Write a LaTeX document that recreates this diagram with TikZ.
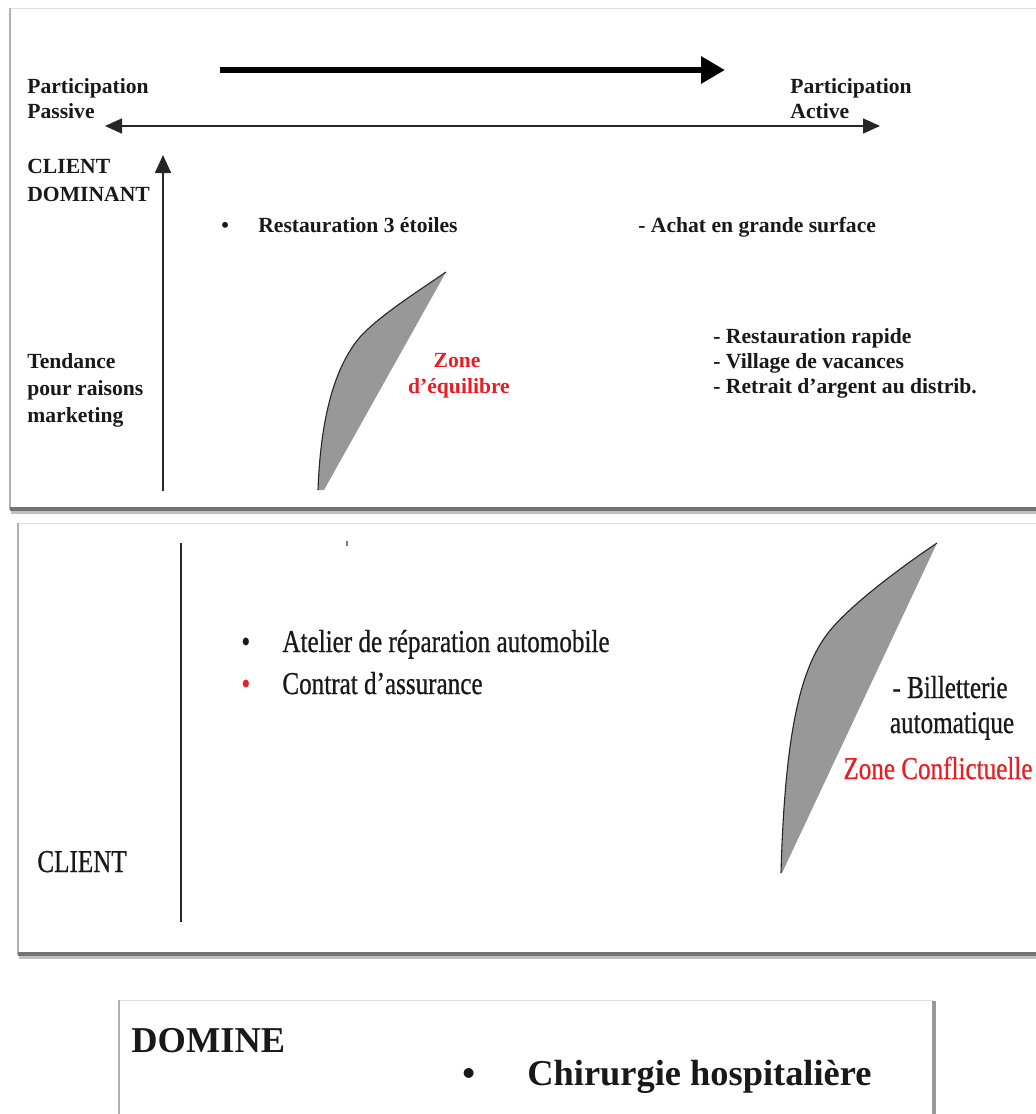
\documentclass[tikz,border=0pt]{standalone}
\usepackage{fontspec}
\setmainfont{Liberation Serif}
\newfontfamily\condfont[FakeStretch=0.79,FakeBold=0.6]{Liberation Serif}
\usetikzlibrary{arrows.meta}
\definecolor{txt}{RGB}{25,25,25}
\definecolor{zred}{RGB}{232,30,36}
\definecolor{zonefill}{RGB}{152,152,152}
\begin{document}
\begin{tikzpicture}[x=0.5pt,y=-0.5pt,
  t1/.style={font=\fontsize{10.8}{13}\selectfont\bfseries, anchor=base west, inner sep=0pt, text=txt},
  t1r/.style={t1, anchor=base, text=zred},
  t2/.style={font=\fontsize{15.9}{19}\condfont, anchor=base west, inner sep=0pt, text=txt},
  t2c/.style={t2, anchor=base},
  t3/.style={font=\fontsize{18.2}{22}\selectfont\bfseries, anchor=base west, inner sep=0pt, text=txt},
  panelbg/.style={fill=white, draw=black!12, line width=0.5pt},
  shadowdark/.style={line width=2pt, draw=black!55},
  shadowlight/.style={line width=1.5pt, draw=black!25},
  zone/.style={fill=zonefill, draw=none},
  zoneedge/.style={draw=black!85, line width=0.55pt},
  axis/.style={line width=0.8pt, draw=black!85},
]
\useasboundingbox (0,0) rectangle (1036,1114);
\clip (0,0) rectangle (1036,1114);
\fill[white] (0,0) rectangle (1036,1114);

% ---------------- Panel 1 ----------------
\draw[panelbg] (9,8) rectangle (1045,509);
\draw[line width=1pt, draw=black!30] (9.5,8) -- (9.5,509);
\draw[shadowdark] (10,509) -- (1045,509);
\draw[shadowlight] (11,512) -- (1045,512);

\coordinate (thA) at (220,70);
\coordinate (thB) at (725,70);
\draw[line width=3.2pt, draw=black, -{Triangle[length=12pt,width=13pt]}] (thA) -- (thB);

\coordinate (hxA) at (105,126);
\coordinate (hxB) at (880,126);
\draw[axis, {Triangle[length=8.5pt,width=7.5pt]}-{Triangle[length=8.5pt,width=7.5pt]}] (hxA) -- (hxB);

\coordinate (vyA) at (163,491);
\coordinate (vyB) at (163,155);
\draw[axis, -{Triangle[length=9pt,width=8pt]}] (vyA) -- (vyB);

\node[t1] (pp1) at (27,93) {Participation};
\node[t1] (pp2) at (27,118) {Passive};
\node[t1] (pa1) at (790,93) {Participation};
\node[t1] (pa2) at (790,118) {Active};
\node[t1] (cd1) at (27,173) {CLIENT};
\node[t1] (cd2) at (27,201) {DOMINANT};
\node[t1] (td1) at (27,368) {Tendance};
\node[t1] (td2) at (27,395) {pour raisons};
\node[t1] (td3) at (27,422) {marketing};

\node[t1] (b1) at (221,232) {•};
\node[t1] (r3) at (258,232) {Restauration 3 étoiles};
\node[t1] (ach) at (638,232) {- Achat en grande surface};
\node[t1] (rr1) at (713,343) {- Restauration rapide};
\node[t1] (rr2) at (713,368) {- Village de vacances};
\node[t1] (rr3) at (713,393) {- Retrait d’argent au distrib.};

\fill[zone] (324,490) -- (446,272) .. controls (420,290) and (380,315) .. (360,337)
  .. controls (338,363) and (321,408) .. (318,490) -- cycle;
\draw[zoneedge] (446,272) .. controls (420,290) and (380,315) .. (360,337)
  .. controls (338,363) and (321,408) .. (318,490);

\node[t1r] (ze1) at (457,367) {Zone};
\node[t1r] (ze2) at (459,393) {d’équilibre};

% ---------------- Panel 2 ----------------
\draw[panelbg] (17,523) rectangle (1045,954);
\draw[line width=1pt, draw=black!30] (17.5,523) -- (17.5,954);
\draw[shadowdark] (18,954) -- (1045,954);
\draw[shadowlight] (19,957) -- (1045,957);

\coordinate (v2A) at (181,543);
\coordinate (v2B) at (181,922);
\draw[line width=0.7pt, draw=black!85] (v2A) -- (v2B);
\draw[line width=0.6pt, draw=black!50] (347,541) -- (347,546);

\node[t2] (b21) at (241,652) {•};
\node[t2] (at) at (282,652) {Atelier de réparation automobile};
\node[t2, text=zred] (b22) at (241,694) {•};
\node[t2] (ca) at (282,694) {Contrat d’assurance};
\node[t2] (cl) at (37,872) {CLIENT};

\fill[zone] (782,873) -- (937,543) .. controls (900,568) and (850,605) .. (828,633)
  .. controls (801,668) and (785,730) .. (781,873) -- cycle;
\draw[zoneedge] (937,543) .. controls (900,568) and (850,605) .. (828,633)
  .. controls (801,668) and (785,730) .. (781,873);

\node[t2c] (bil1) at (950,698) {- Billetterie};
\node[t2c] (bil2) at (952,733) {automatique};
\node[t2, text=zred] (zc) at (843,779) {Zone Conflictuelle};

% ---------------- Panel 3 ----------------
\draw[panelbg] (118,1000) rectangle (933,1130);
\draw[line width=1pt, draw=black!30] (118.5,1000) -- (118.5,1130);
\draw[line width=1.6pt, draw=black!40] (934,1001) -- (934,1130);

\node[t3] (dom) at (131,1052) {DOMINE};
\node[t3] (b3) at (462,1085) {•};
\node[t3] (chi) at (527,1085) {Chirurgie hospitalière};
\end{tikzpicture}
\end{document}
